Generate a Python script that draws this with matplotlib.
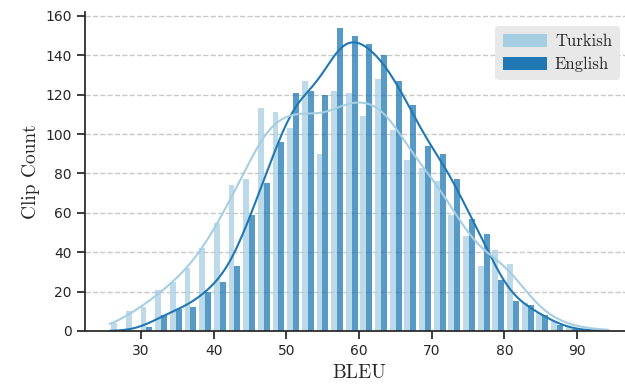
import matplotlib
matplotlib.use("Agg")
import matplotlib.pyplot as plt
from matplotlib.patches import Patch
import numpy as np
import pandas as pd
import seaborn as sns

# histogram counts (34 bins, ~2 BLEU wide)
bin_lo, bin_hi, n_bins = 25.7, 94.3, 34
turkish = [4, 10, 12, 21, 25, 32, 42, 55, 74, 77, 113, 111, 103, 127, 90, 122, 121,
           109, 128, 102, 87, 83, 76, 59, 48, 33, 41, 34, 14, 9, 5, 2, 1, 1]
english = [0, 0, 2, 8, 11, 12, 20, 25, 33, 59, 75, 96, 121, 122, 120, 154, 150,
           146, 140, 127, 115, 94, 90, 77, 57, 49, 26, 15, 13, 8, 3, 1, 0, 0]
languages = ['Turkish', 'English']
colors = ['#a6cee3', '#1f78b4']

edges = np.linspace(bin_lo, bin_hi, n_bins + 1)
centers = (edges[:-1] + edges[1:]) / 2

df = pd.DataFrame({
    'BLEU': np.concatenate([np.repeat(centers, turkish), np.repeat(centers, english)]),
    'Language': ['Turkish'] * sum(turkish) + ['English'] * sum(english),
})

# let the kde run out to the outer bin edges, like the original raw data did
bw = df['BLEU'].std() * len(df) ** -0.2
kde_cut = (centers[0] - edges[0]) / bw

sns.set_style("ticks")
plt.rcParams['axes.edgecolor'] = '#262626'
plt.rcParams['axes.linewidth'] = 1.25

fig = plt.figure(figsize=(6.25, 3.88), dpi=100)
ax = fig.add_axes([0.1357, 0.147, 0.8775, 0.822])
ax.set_axisbelow(True)
ax.yaxis.grid(True, linestyle='--', color='#c8c8c8', linewidth=1.0)

sns.histplot(data=df, x='BLEU', hue='Language', hue_order=languages, palette=colors,
             bins=edges, multiple='dodge', shrink=0.8, kde=True, alpha=0.75,
             linewidth=0, line_kws={'linewidth': 1.5}, kde_kws={'cut': kde_cut},
             legend=False, ax=ax)

ax.set_xlim(22.27, 97.73)
ax.set_ylim(0, 162)
ax.set_xticks(np.arange(30, 91, 10))
ax.set_yticks(np.arange(0, 161, 20))
ax.tick_params(axis='both', labelsize=10, length=6, width=1.25, colors='#262626')
sns.despine(ax=ax)

ax.set_xlabel('BLEU', fontsize=14, fontfamily='cmr10')
ax.set_ylabel('Clip Count', fontsize=14, fontfamily='cmr10')

handles = [Patch(facecolor=c, edgecolor='none') for c in colors]
leg = ax.legend(handles, languages, loc='upper right', bbox_to_anchor=(620 / 625, 1 - 26 / 388),
                bbox_transform=fig.transFigure, borderaxespad=0,
                prop={'family': 'cmr10', 'size': 12}, handlelength=2.6, handleheight=0.85,
                handletextpad=0.5, borderpad=0.48, labelspacing=0.45,
                facecolor='#e8e8e8', edgecolor='none', framealpha=1.0, fancybox=True)

plt.savefig('out.png', dpi=100)
plt.close()
